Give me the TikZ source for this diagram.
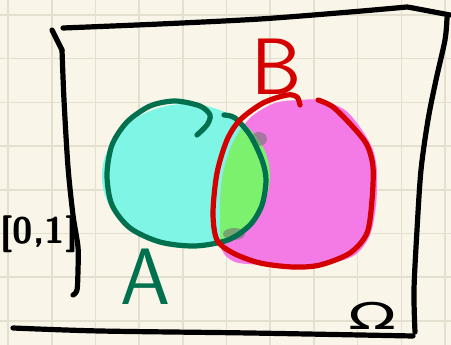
\documentclass[tikz,border=0pt]{standalone}
\usepackage{fontspec}
\newfontfamily\dejavu{DejaVu Sans}
\definecolor{bgc}{HTML}{F9F6E9}
\definecolor{gridc}{HTML}{E4E0CF}
\definecolor{cyanf}{HTML}{7FF5E6}
\definecolor{magf}{HTML}{F47BE6}
\definecolor{greenf}{HTML}{7BF16E}
\definecolor{tealc}{HTML}{00704F}
\definecolor{redc}{HTML}{D40000}
\begin{document}
\begin{tikzpicture}[x=1pt,y=-1pt,
  pen/.style={line width=5.2pt,line cap=round,line join=round},
  gridline/.style={gridc,line width=1.6pt},
  label/.style={inner sep=0pt,font=\sffamily}]
\useasboundingbox (0,0) rectangle (451,345);
\fill[bgc] (0,0) rectangle (451,345);
\foreach \i in {0,...,10} \draw[gridline] ({8+43.7*\i},0) -- ({8+43.7*\i},345);
\foreach \j in {0,...,7} \draw[gridline] (0,{15+43.7*\j}) -- (451,{15+43.7*\j});
% fills
\fill[cyanf] (186,176) ellipse [x radius=84,y radius=72];
\fill[magf] plot[smooth cycle] coordinates {(320,100) (345,110) (362,130) (373,150) (377,172) (376,205) (370,235) (355,255) (325,265) (293,267) (262,265) (235,262) (222,250) (220,220) (222,180) (232,145) (250,118) (275,103) (300,100)};
\begin{scope}
\clip (186,176) ellipse [x radius=84,y radius=72];
\fill[greenf] plot[smooth cycle] coordinates {(320,100) (345,110) (362,130) (373,150) (377,172) (376,205) (370,235) (355,255) (325,265) (293,267) (262,265) (235,262) (222,250) (220,220) (222,180) (232,145) (250,118) (275,103) (300,100)};
\end{scope}
\fill[black!55,opacity=0.6] (259,139) ellipse [x radius=8,y radius=7];
\fill[black!55,opacity=0.6] (234,234) ellipse [x radius=11,y radius=6];
% frame
\draw[pen] plot[smooth] coordinates {(63,28) (160,24) (260,19) (350,12) (407,7)} -- (413,8) -- (450,15);
\draw[pen] plot[smooth] coordinates {(447,18) (445,40) (436,80) (428,120) (421,170) (417,230) (414,290) (415,332)};
\draw[pen] plot[smooth] coordinates {(13,328) (100,331) (250,333) (413,336)};
\draw[pen] (52,30) -- (62,50);
\draw[pen] plot[smooth] coordinates {(62,50) (64,100) (68,167) (73,215) (78,247) (78,270) (77,290) (73,295)};
% circle A outline
\draw[pen,tealc] plot[smooth] coordinates {(224,115) (235,118) (250,135) (262,160) (266,180) (262,205) (250,225) (228,240) (195,246) (160,242) (130,228) (112,205) (107,175) (112,145) (127,122) (150,106) (175,101) (200,106) (210,115) (207,125) (197,135)};
% circle B outline
\draw[pen,redc] plot[smooth] coordinates {(318,100) (333,107) (353,127) (367,145) (373,167) (372,200) (367,233) (350,253) (320,265) (293,267) (260,263) (233,253) (217,240) (213,213) (217,173) (227,140) (240,120) (263,103) (287,95) (297,97) (300,105)};
% labels
\node[label,text=tealc,font=\sffamily\fontsize{80}{80}\selectfont] (la) at (146,277) {A};
\node[label,text=redc,font=\sffamily\fontsize{80}{80}\selectfont] (lb) at (277,67) {B};
\node[label,xscale=1.7,font=\dejavu\fontsize{37}{37}\selectfont] (lo) at (373,316) {Ω};
\node[label,font=\sffamily\bfseries\fontsize{37}{37}\selectfont] (li) at (39,234) {[0,1]};
\end{tikzpicture}
\end{document}
